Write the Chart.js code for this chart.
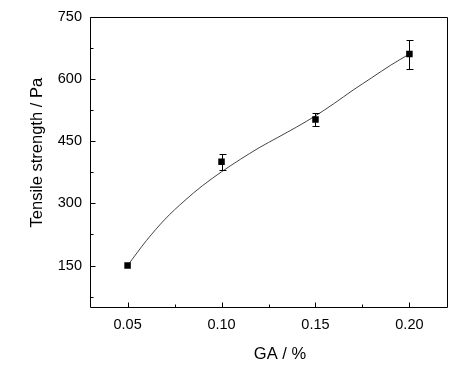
<!DOCTYPE html>
<html>
<head>
<meta charset="utf-8">
<script src="https://cdn.jsdelivr.net/npm/chart.js@4.4.0/dist/chart.umd.min.js"></script>
<style>
  html, body { margin: 0; padding: 0; background: #fff; }
  canvas { display: block; }
</style>
</head>
<body>
<canvas id="c" width="471" height="369"></canvas>
<script>
// ---- data ----
const gaPercent = [0.05, 0.10, 0.15, 0.20];
const tensileStrength = [150, 400, 502, 660];
const tensileError = [0, 20, 15, 35];

// smooth fitted curve
const curveX = [0.05, 0.06, 0.07, 0.08, 0.09, 0.10, 0.11, 0.12, 0.13, 0.14, 0.15, 0.16, 0.17, 0.18, 0.19, 0.20];
const curveY = [150, 210, 262, 305, 343, 376, 406, 434, 459, 484, 511, 541, 573, 603, 633, 660];

const xTickValues = [0.05, 0.10, 0.15, 0.20];
const xTickLabels = ['0.05', '0.10', '0.15', '0.20'];
const xMinorTicks = [0.075, 0.125, 0.175];
const yTickValues = [150, 300, 450, 600, 750];
const yTickLabels = ['150', '300', '450', '600', '750'];
const yMinorTicks = [75, 225, 375, 525, 675];

const xTitle = 'GA / %';
const yTitle = 'Tensile strength / Pa';

const FONT = "'Liberation Sans', Arial, sans-serif";

const framePlugin = {
  id: 'frame',
  afterDraw(chart) {
    const {ctx, chartArea: a, scales: {x, y}} = chart;
    ctx.save();
    ctx.strokeStyle = '#000';
    ctx.lineWidth = 1;
    ctx.beginPath();
    ctx.rect(Math.round(a.left) + 0.5, Math.round(a.top) + 0.5,
             Math.round(a.right - a.left), Math.round(a.bottom - a.top));
    ctx.stroke();
    // inward ticks
    const bottom = Math.round(a.bottom) + 0.5;
    const left = Math.round(a.left) + 0.5;
    ctx.beginPath();
    xTickValues.forEach(v => { const p = Math.round(x.getPixelForValue(v)) + 0.5; ctx.moveTo(p, bottom); ctx.lineTo(p, bottom - 5); });
    xMinorTicks.forEach(v => { const p = Math.round(x.getPixelForValue(v)) + 0.5; ctx.moveTo(p, bottom); ctx.lineTo(p, bottom - 3); });
    yTickValues.forEach(v => { const p = Math.round(y.getPixelForValue(v)) + 0.5; ctx.moveTo(left, p); ctx.lineTo(left + 5, p); });
    yMinorTicks.forEach(v => { const p = Math.round(y.getPixelForValue(v)) + 0.5; ctx.moveTo(left, p); ctx.lineTo(left + 3, p); });
    ctx.stroke();
    ctx.restore();
  }
};

const errorBarPlugin = {
  id: 'errorBars',
  afterDatasetsDraw(chart) {
    const {ctx, scales: {x, y}} = chart;
    ctx.save();
    ctx.strokeStyle = '#000';
    ctx.lineWidth = 1;
    ctx.beginPath();
    gaPercent.forEach((gx, i) => {
      if (!tensileError[i]) return;
      const px = Math.round(x.getPixelForValue(gx)) + 0.5;
      const top = Math.round(y.getPixelForValue(tensileStrength[i] + tensileError[i])) + 0.5;
      const bot = Math.round(y.getPixelForValue(tensileStrength[i] - tensileError[i])) + 0.5;
      ctx.moveTo(px, top); ctx.lineTo(px, bot);
      ctx.moveTo(px - 3, top); ctx.lineTo(px + 4, top);
      ctx.moveTo(px - 3, bot); ctx.lineTo(px + 4, bot);
    });
    ctx.stroke();
    ctx.restore();
  }
};

new Chart(document.getElementById('c'), {
  type: 'scatter',
  data: {
    datasets: [
      {
        label: 'fit',
        data: curveX.map((v, i) => ({x: v, y: curveY[i]})),
        showLine: true,
        borderColor: '#444',
        borderWidth: 1,
        pointRadius: 0,
        cubicInterpolationMode: 'monotone',
        order: 2
      },
      {
        label: 'Tensile strength',
        data: gaPercent.map((v, i) => ({x: v, y: tensileStrength[i]})),
        showLine: false,
        pointStyle: 'rect',
        pointRadius: 4.6,
        backgroundColor: '#000',
        borderColor: '#000',
        borderWidth: 0,
        order: 1
      }
    ]
  },
  options: {
    responsive: false,
    animation: false,
    layout: { padding: { top: 16, right: 24, left: 0, bottom: 0 } },
    plugins: { legend: { display: false }, tooltip: { enabled: false } },
    scales: {
      x: {
        type: 'linear',
        min: 0.03,
        max: 0.22,
        afterBuildTicks: s => { s.ticks = xTickValues.map(v => ({value: v})); },
        afterFit: s => { s.height = 62; },
        grid: { display: false, drawTicks: false },
        border: { display: false },
        ticks: {
          autoSkip: false,
          maxRotation: 0,
          padding: 9,
          color: '#000',
          font: { family: FONT, size: 14.5 },
          callback: (v, i) => xTickLabels[i]
        },
        title: {
          display: true,
          text: '     ' + xTitle,
          color: '#000',
          font: { family: FONT, size: 16.5 },
          padding: { top: 0, bottom: 5 }
        }
      },
      y: {
        type: 'linear',
        min: 50,
        max: 750,
        afterBuildTicks: s => { s.ticks = yTickValues.map(v => ({value: v})); },
        afterFit: s => { s.width = 90; },
        grid: { display: false, drawTicks: false },
        border: { display: false },
        ticks: {
          padding: 8,
          color: '#000',
          font: { family: FONT, size: 14.5 },
          callback: (v, i) => yTickLabels[i]
        },
        title: {
          display: true,
          text: '    ' + yTitle,
          color: '#000',
          font: { family: FONT, size: 16.5 },
          padding: { top: 28, bottom: 0 }
        }
      }
    }
  },
  plugins: [framePlugin, errorBarPlugin]
});
</script>
</body>
</html>
